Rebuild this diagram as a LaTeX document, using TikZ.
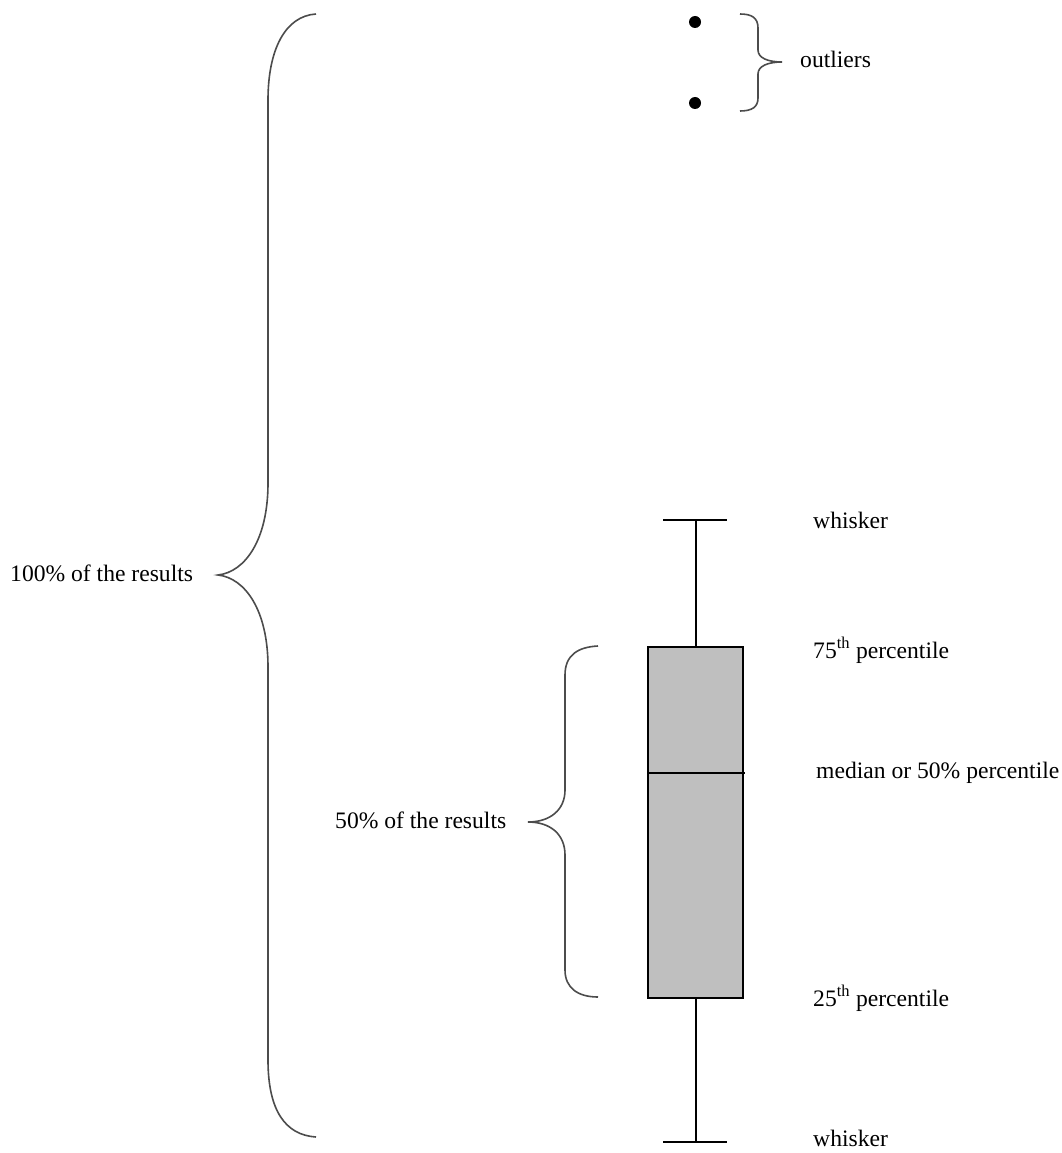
\documentclass[tikz,border=0pt]{standalone}
\usepackage{fontspec}
\setmainfont{Liberation Serif}
\begin{document}
\begin{tikzpicture}[x=1pt,y=-1pt,
  lbl/.style={anchor=base west,inner sep=0pt,font=\fontsize{23.6}{28}\selectfont},
  bracestyle/.style={draw=black!70,line width=1.6pt},
  boxline/.style={draw=black,line width=1.6pt}]
\useasboundingbox[fill=white] (0,0) rectangle (1061,1153);
% big brace
\draw[bracestyle] (316,14) .. controls (285,16) and (268,50) .. (268,100) -- (268,483)
  .. controls (268,540) and (245,572) .. (218,575)
  .. controls (245,578) and (268,610) .. (268,667) -- (268,1060)
  .. controls (268,1110) and (285,1135) .. (316,1137);
% 50% brace
\draw[bracestyle] (598,646) .. controls (578,647) and (565,655) .. (565,675) -- (565,790)
  .. controls (565,810) and (550,822) .. (528,822)
  .. controls (550,822) and (565,834) .. (565,855) -- (565,970)
  .. controls (565,988) and (578,997) .. (598,997);
% outlier brace
\draw[bracestyle] (740,14) .. controls (752,14) and (758,18) .. (758,28) -- (758,50)
  .. controls (758,58) and (768,62) .. (782,62)
  .. controls (768,62) and (758,66) .. (758,74) -- (758,98)
  .. controls (758,107) and (752,111) .. (740,111);
% outliers
\fill (695,22) circle (6);
\fill (695,103) circle (6);
% box plot
\coordinate (wtop) at (696,520);
\coordinate (wbot) at (696,1142);
\node[boxline,fill=black!25,minimum width=95pt,minimum height=351pt,inner sep=0pt,anchor=north west] (box) at (647,646) {};
\draw[boxline] (box.north -| wtop) -- (wtop);
\draw[boxline] (box.south -| wbot) -- (wbot);
\draw[boxline] (663,520) -- (727,520);
\draw[boxline] (663,1142) -- (727,1142);
\draw[boxline] (647,773) -- (745,773);
% labels
\node[lbl] (l100) at (10,581) {100\% of the results};
\node[lbl] (l50) at (335,828) {50\% of the results};
\node[lbl] (lout) at (800,68) {outliers};
\node[lbl] (lw1) at (813,528) {whisker};
\node[lbl] (l75) at (813,658) {75\textsuperscript{th} percentile};
\node[lbl] (lmed) at (816,778) {median or 50\% percentile};
\node[lbl] (l25) at (813,1006) {25\textsuperscript{th} percentile};
\node[lbl] (lw2) at (813,1146) {whisker};
\end{tikzpicture}
\end{document}
